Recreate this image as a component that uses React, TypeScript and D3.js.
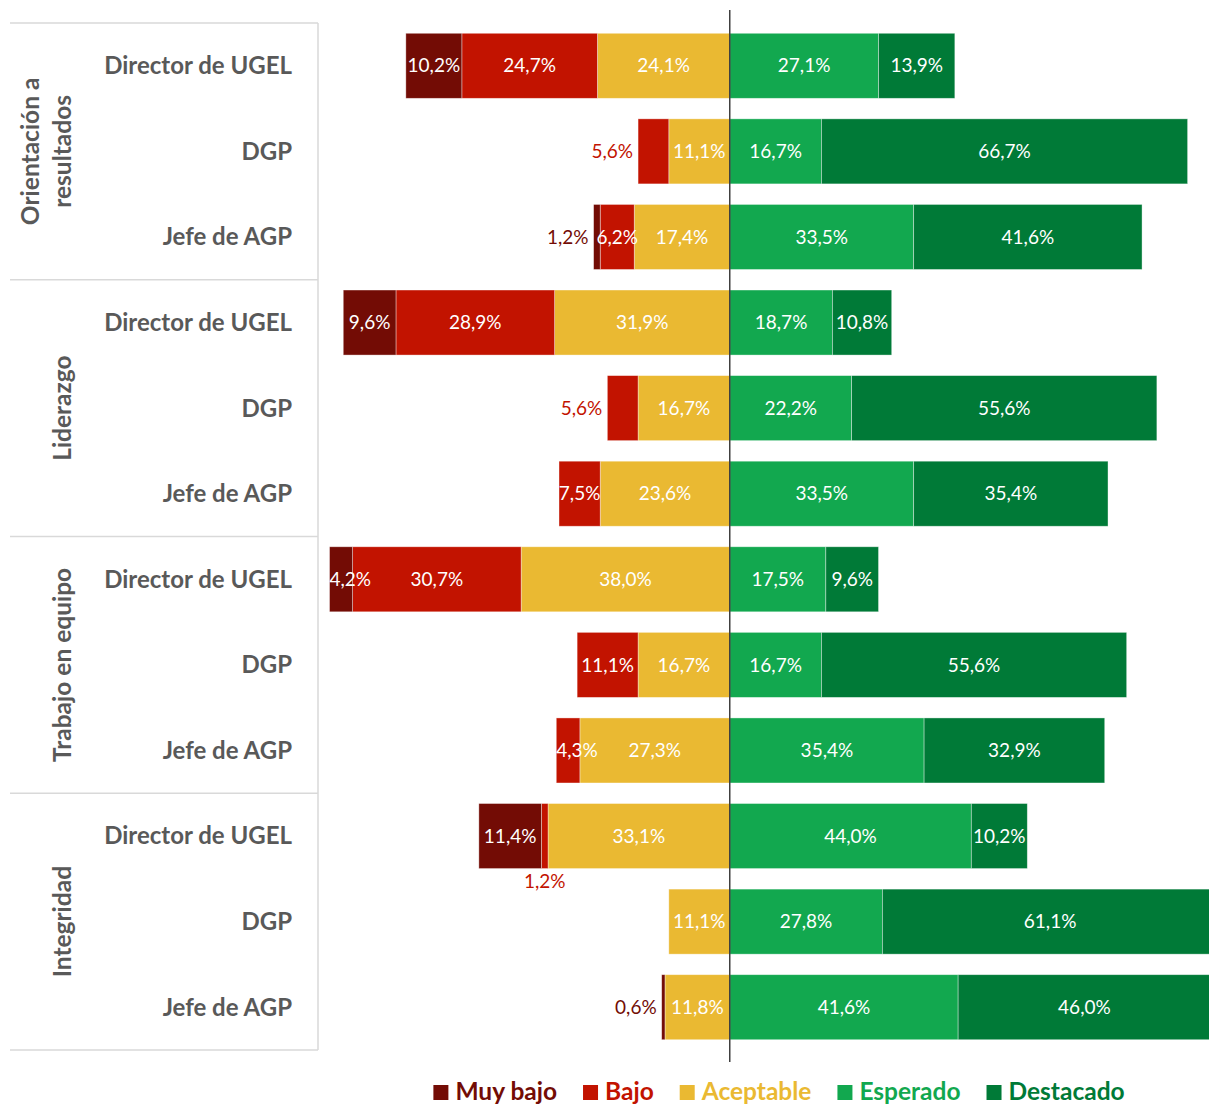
import { useEffect, useRef } from "react";
import * as d3 from "d3";

const groupLabels = [["Orientación a", "resultados"], ["Liderazgo"], ["Trabajo en equipo"], ["Integridad"]];
const roles = ["Director de UGEL", "DGP", "Jefe de AGP"];

// one value per row (4 groups x 3 roles)
const muyBajo = [10.2, 0, 1.2, 9.6, 0, 0, 4.2, 0, 0, 11.4, 0, 0.6];
const bajo = [24.7, 5.6, 6.2, 28.9, 5.6, 7.5, 30.7, 11.1, 4.3, 1.2, 0, 0];
const aceptable = [24.1, 11.1, 17.4, 31.9, 16.7, 23.6, 38.0, 16.7, 27.3, 33.1, 11.1, 11.8];
const esperado = [27.1, 16.7, 33.5, 18.7, 22.2, 33.5, 17.5, 16.7, 35.4, 44.0, 27.8, 41.6];
const destacado = [13.9, 66.7, 41.6, 10.8, 55.6, 35.4, 9.6, 55.6, 32.9, 10.2, 61.1, 46.0];

const seriesNames = ["Muy bajo", "Bajo", "Aceptable", "Esperado", "Destacado"];
const seriesColors = ["#730C05", "#C21300", "#EAB932", "#12A84F", "#007A37"];

// labels that Excel drew outside their tiny segments
const outsideLabels = [
  { row: 1, series: 1, place: "left" },
  { row: 2, series: 0, place: "left" },
  { row: 4, series: 1, place: "left" },
  { row: 9, series: 1, place: "below" },
  { row: 11, series: 0, place: "left" },
];

const FONT = "Lato, 'Open Sans', sans-serif";
const fmt = (v: number) => v.toFixed(1).replace(".", ",") + "%";

export default function App() {
  const svgRef = useRef<SVGSVGElement>(null);

  useEffect(() => {
    if (!svgRef.current) return;
    const width = 1209;
    const height = 1108;
    const top = 23;
    const bottom = 1050;
    const plotLeft = 318;

    const svg = d3.select(svgRef.current);
    svg.selectAll("*").remove();
    svg.attr("width", width).attr("height", height);

    const rowIds = d3.range(12);
    const values = [muyBajo, bajo, aceptable, esperado, destacado];

    const x = d3.scaleLinear().domain([-75, 88]).range([plotLeft, plotLeft + 163 * 5.49]);
    const y = d3.scaleBand<number>().domain(rowIds).range([top, bottom]).paddingInner(0.24).paddingOuter(0.12);

    // left-side label panel
    const panel = svg.append("g").attr("stroke", "#D9D9D9").attr("stroke-width", 1.5);
    d3.range(5).forEach((i) => {
      const yy = top + (i * (bottom - top)) / 4;
      panel.append("line").attr("x1", 10).attr("x2", plotLeft).attr("y1", yy).attr("y2", yy);
    });
    panel.append("line").attr("x1", plotLeft).attr("x2", plotLeft).attr("y1", top).attr("y2", bottom);

    groupLabels.forEach((lines, gi) => {
      const cy = top + ((gi + 0.5) * (bottom - top)) / 4;
      const t = svg
        .append("text")
        .attr("transform", `translate(${lines.length > 1 ? 46 : 62},${cy}) rotate(-90)`)
        .attr("text-anchor", "middle")
        .attr("font-family", FONT)
        .attr("font-weight", "bold")
        .attr("font-size", 24.5)
        .attr("fill", "#595959");
      lines.forEach((l, li) => {
        t.append("tspan")
          .attr("x", 0)
          .attr("y", (li - (lines.length - 1) / 2) * 32)
          .attr("dy", "0.35em")
          .text(l);
      });
    });

    rowIds.forEach((r) => {
      svg
        .append("text")
        .attr("x", 292)
        .attr("y", y(r)! + y.bandwidth() / 2)
        .attr("dy", "0.35em")
        .attr("text-anchor", "end")
        .attr("font-family", FONT)
        .attr("font-weight", "bold")
        .attr("font-size", 24)
        .attr("fill", "#595959")
        .text(roles[r % 3]);
    });

    // segments: negatives stack leftwards from Aceptable outwards
    type Seg = { row: number; s: number; x0: number; x1: number; v: number };
    const segs: Seg[] = [];
    rowIds.forEach((r) => {
      let acc = 0;
      [2, 1, 0].forEach((s) => {
        const v = values[s][r];
        segs.push({ row: r, s, x0: -(acc + v), x1: -acc, v });
        acc += v;
      });
      acc = 0;
      [3, 4].forEach((s) => {
        const v = values[s][r];
        segs.push({ row: r, s, x0: acc, x1: acc + v, v });
        acc += v;
      });
    });
    const shown = segs.filter((d) => d.v > 0);

    svg
      .append("g")
      .selectAll("rect")
      .data(shown)
      .join("rect")
      .attr("x", (d) => x(d.x0))
      .attr("y", (d) => y(d.row)!)
      .attr("width", (d) => x(d.x1) - x(d.x0))
      .attr("height", y.bandwidth())
      .attr("fill", (d) => seriesColors[d.s])
      .attr("stroke", "#fff")
      .attr("stroke-opacity", 0.5)
      .attr("stroke-width", 0.75);

    const isOutside = (d: Seg) => outsideLabels.find((o) => o.row === d.row && o.series === d.s);

    const labels = svg.append("g").attr("font-family", FONT).attr("font-size", 19);
    shown.forEach((d) => {
      const cy = y(d.row)! + y.bandwidth() / 2;
      const o = isOutside(d);
      if (o) {
        const leftEdge = x(-(muyBajo[d.row] + bajo[d.row] + aceptable[d.row]));
        if (o.place === "left") {
          labels
            .append("text")
            .attr("x", leftEdge - 5)
            .attr("y", cy)
            .attr("dy", "0.35em")
            .attr("text-anchor", "end")
            .attr("fill", seriesColors[d.s])
            .text(fmt(d.v));
        } else {
          labels
            .append("text")
            .attr("x", (x(d.x0) + x(d.x1)) / 2)
            .attr("y", y(d.row)! + y.bandwidth() + 13)
            .attr("dy", "0.35em")
            .attr("text-anchor", "middle")
            .attr("fill", seriesColors[d.s])
            .text(fmt(d.v));
        }
        return;
      }
      const t = labels
        .append("text")
        .attr("x", (x(d.x0) + x(d.x1)) / 2)
        .attr("y", cy)
        .attr("dy", "0.35em")
        .attr("text-anchor", "middle")
        .attr("fill", "#fff")
        .text(fmt(d.v));
      const w = (t.node() as SVGTextElement).getComputedTextLength();
      if (w > x(d.x1) - x(d.x0) + 12) {
        t.attr("x", x(d.x0)).attr("text-anchor", "start");
      }
    });

    // zero line
    svg
      .append("line")
      .attr("x1", x(0))
      .attr("x2", x(0))
      .attr("y1", 10)
      .attr("y2", 1062)
      .attr("stroke", "#404040")
      .attr("stroke-width", 1.5);

    // legend
    const legend = svg.append("g").attr("font-family", FONT).attr("font-weight", "bold").attr("font-size", 24.5);
    let lx = 0;
    const gap = 26;
    seriesNames.forEach((name, i) => {
      const g = legend.append("g").attr("transform", `translate(${lx},0)`);
      g.append("rect").attr("x", 0).attr("y", -7).attr("width", 15).attr("height", 15).attr("fill", seriesColors[i]);
      const t = g
        .append("text")
        .attr("x", 22)
        .attr("y", 0)
        .attr("dy", "0.33em")
        .attr("fill", seriesColors[i])
        .text(name);
      const w = (t.node() as SVGTextElement).getComputedTextLength();
      lx += 22 + w + gap;
    });
    const total = lx - gap;
    legend.attr("transform", `translate(${779 - total / 2},1092)`);
  }, []);

  return (
    <div style={{ position: "absolute", left: 0, top: 0 }}>
      <svg ref={svgRef} style={{ display: "block", background: "#fff" }} />
    </div>
  );
}
